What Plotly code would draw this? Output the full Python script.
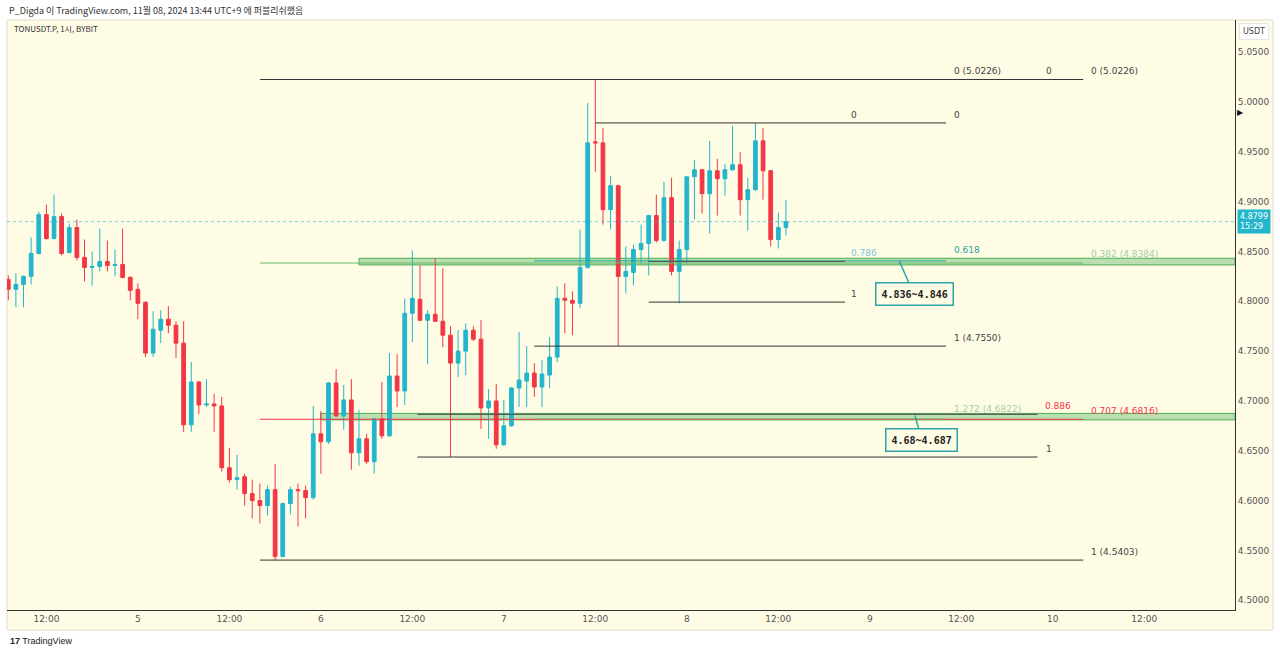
import pandas as pd
import plotly.graph_objects as go

# hourly candles, TONUSDT.P 1h, from 2024-11-04 07:00 (UTC+9)
start = pd.Timestamp('2024-11-04 07:00')
opens = [4.822, 4.812, 4.817, 4.825, 4.848, 4.887, 4.863, 4.885, 4.849, 4.874,
         4.844, 4.834, 4.835, 4.840, 4.836, 4.837, 4.824, 4.812, 4.799, 4.748,
         4.771, 4.782, 4.776, 4.758, 4.676, 4.719, 4.696, 4.697, 4.695, 4.633,
         4.621, 4.624, 4.607, 4.600, 4.595, 4.611, 4.544, 4.597, 4.611, 4.610,
         4.603, 4.667, 4.659, 4.718, 4.685, 4.701, 4.648, 4.662, 4.639, 4.682,
         4.665, 4.725, 4.710, 4.788, 4.802, 4.781, 4.787, 4.780, 4.766, 4.738,
         4.750, 4.771, 4.762, 4.693, 4.700, 4.656, 4.675, 4.713, 4.720, 4.728,
         4.714, 4.726, 4.744, 4.803, 4.801, 4.798, 4.834, 4.960, 4.959, 4.892,
         4.916, 4.825, 4.829, 4.852, 4.858, 4.886, 4.861, 4.904, 4.830, 4.852,
         4.925, 4.932, 4.908, 4.931, 4.923, 4.932, 4.937, 4.902, 4.912, 4.961,
         4.931, 4.862, 4.874]
highs = [4.826, 4.828, 4.826, 4.864, 4.890, 4.897, 4.907, 4.888, 4.878, 4.882,
         4.862, 4.850, 4.873, 4.861, 4.852, 4.873, 4.825, 4.818, 4.800, 4.790,
         4.791, 4.795, 4.780, 4.780, 4.739, 4.720, 4.722, 4.707, 4.704, 4.653,
         4.646, 4.627, 4.621, 4.617, 4.615, 4.637, 4.598, 4.614, 4.617, 4.615,
         4.695, 4.690, 4.719, 4.732, 4.716, 4.722, 4.691, 4.667, 4.683, 4.719,
         4.748, 4.747, 4.803, 4.851, 4.836, 4.791, 4.843, 4.833, 4.775, 4.771,
         4.778, 4.775, 4.781, 4.712, 4.717, 4.701, 4.714, 4.769, 4.755, 4.738,
         4.741, 4.764, 4.815, 4.818, 4.810, 4.872, 4.999, 5.0226, 4.974, 4.926,
         4.917, 4.855, 4.857, 4.877, 4.887, 4.907, 4.920, 4.924, 4.861, 4.925,
         4.942, 4.933, 4.961, 4.943, 4.938, 4.976, 4.950, 4.924, 4.979, 4.974,
         4.932, 4.889, 4.902]
lows = [4.801, 4.794, 4.794, 4.817, 4.847, 4.862, 4.862, 4.846, 4.848, 4.841,
        4.820, 4.816, 4.830, 4.830, 4.825, 4.823, 4.801, 4.782, 4.744, 4.744,
        4.758, 4.768, 4.743, 4.669, 4.669, 4.687, 4.694, 4.669, 4.629, 4.618,
        4.611, 4.595, 4.582, 4.577, 4.585, 4.5403, 4.543, 4.586, 4.574, 4.582,
        4.601, 4.627, 4.657, 4.684, 4.671, 4.631, 4.635, 4.637, 4.627, 4.662,
        4.664, 4.694, 4.696, 4.759, 4.780, 4.737, 4.779, 4.754, 4.6437, 4.724,
        4.726, 4.760, 4.672, 4.662, 4.652, 4.655, 4.674, 4.694, 4.694, 4.704,
        4.694, 4.713, 4.739, 4.768, 4.766, 4.793, 4.833, 4.930, 4.877, 4.872,
        4.755, 4.808, 4.816, 4.838, 4.826, 4.859, 4.860, 4.826, 4.798, 4.838,
        4.882, 4.888, 4.868, 4.886, 4.906, 4.931, 4.886, 4.871, 4.911, 4.902,
        4.855, 4.853, 4.866]
closes = [4.812, 4.817, 4.825, 4.848, 4.887, 4.863, 4.885, 4.848, 4.874, 4.844,
          4.834, 4.835, 4.840, 4.836, 4.837, 4.824, 4.811, 4.798, 4.748, 4.772,
          4.782, 4.776, 4.758, 4.676, 4.719, 4.696, 4.697, 4.695, 4.633, 4.621,
          4.623, 4.607, 4.600, 4.595, 4.611, 4.544, 4.597, 4.611, 4.610, 4.603,
          4.667, 4.659, 4.718, 4.685, 4.701, 4.648, 4.662, 4.639, 4.682, 4.665,
          4.725, 4.710, 4.788, 4.803, 4.781, 4.787, 4.780, 4.766, 4.738, 4.750,
          4.771, 4.762, 4.693, 4.700, 4.656, 4.675, 4.713, 4.721, 4.728, 4.714,
          4.727, 4.744, 4.803, 4.801, 4.798, 4.834, 4.959, 4.959, 4.892, 4.916,
          4.825, 4.830, 4.852, 4.858, 4.886, 4.861, 4.904, 4.830, 4.852, 4.925,
          4.932, 4.908, 4.931, 4.923, 4.932, 4.937, 4.902, 4.912, 4.961, 4.931,
          4.862, 4.874, 4.8799]
times = pd.date_range(start, periods=len(opens), freq='h')

# fib / horizontal lines drawn on the chart
line_price = [5.0226, 4.979, 4.7992, 4.7550, 4.6437, 4.5403,
              4.8384, 4.8406, 4.8400, 4.6816, 4.6822, 4.6866]
line_from = ['2024-11-05 16:00', '2024-11-07 12:00', '2024-11-07 19:00', '2024-11-07 04:00',
             '2024-11-06 12:40', '2024-11-05 16:00', '2024-11-05 16:00', '2024-11-07 04:00',
             '2024-11-07 19:00', '2024-11-05 16:00', '2024-11-07 04:00', '2024-11-06 12:40']
line_to = ['2024-11-10 04:00', '2024-11-09 10:00', '2024-11-08 20:45', '2024-11-09 10:00',
           '2024-11-09 22:00', '2024-11-10 04:00', '2024-11-10 04:00', '2024-11-09 10:00',
           '2024-11-08 20:45', '2024-11-10 04:00', '2024-11-09 10:00', '2024-11-09 22:00']
line_color = ['#333333', '#333333', '#333333', '#333333', '#333333', '#333333',
              '#66bb6a', '#26a69a', '#555555', '#f23645', '#81c784', '#444444']

# fib level labels
label_text = ['0 (5.0226)', '0', '0 (5.0226)', '0', '0',
              '0.786', '0.618', '0.382 (4.8384)', '1', '1 (4.7550)',
              '1.272 (4.6822)', '0.886', '0.707 (4.6816)', '1', '1 (4.5403)']
label_time = ['2024-11-09 10:45', '2024-11-09 22:50', '2024-11-10 04:45', '2024-11-08 21:20',
              '2024-11-09 10:45', '2024-11-08 21:20', '2024-11-09 10:45', '2024-11-10 04:45',
              '2024-11-08 21:20', '2024-11-09 10:45', '2024-11-09 10:45', '2024-11-09 22:40',
              '2024-11-10 04:45', '2024-11-09 22:50', '2024-11-10 04:45']
label_price = [5.0226, 5.0226, 5.0226, 4.979, 4.979,
               4.8400, 4.8430, 4.8395, 4.7992, 4.7550,
               4.6840, 4.6866, 4.6816, 4.6437, 4.5403]
label_color = ['#444444', '#444444', '#444444', '#444444', '#444444',
               '#7fc4d8', '#26a69a', '#9fcfa8', '#444444', '#444444',
               '#9fcfa8', '#f23645', '#f23645', '#444444', '#444444']

# highlighted zones
zone_low = [4.8365, 4.6810]
zone_high = [4.8432, 4.6875]
zone_from = ['2024-11-06 05:00', '2024-11-06 00:00']
zone_text = ['4.836~4.846', '4.68~4.687']
zone_tip_time = ['2024-11-09 03:50', '2024-11-09 05:55']
zone_tip_price = [4.8410, 4.6855]

xtick_vals = ['2024-11-04 12:00', '2024-11-05 00:00', '2024-11-05 12:00', '2024-11-06 00:00',
              '2024-11-06 12:00', '2024-11-07 00:00', '2024-11-07 12:00', '2024-11-08 00:00',
              '2024-11-08 12:00', '2024-11-09 00:00', '2024-11-09 12:00', '2024-11-10 00:00',
              '2024-11-10 12:00']
xtick_text = ['12:00', '5', '12:00', '6', '12:00', '7', '12:00', '8', '12:00', '9',
              '12:00', '10', '12:00']
ytick_vals = [4.50, 4.55, 4.60, 4.65, 4.70, 4.75, 4.80, 4.85, 4.90, 4.95, 5.00, 5.05]

UP = '#22b5cc'
DOWN = '#f23645'
BG = '#fffce6'

W, H = 1280, 654
L, R, T, B = 7, 45, 20, 44
pw, ph = W - L - R, H - T - B


def px(x):
  return (x - L) / pw


def py(y):
  return (H - B - y) / ph


x_lo = start - pd.Timedelta(minutes=10)
x_hi = start + pd.Timedelta(hours=160.9)

fig = go.Figure()
fig.add_trace(go.Candlestick(x=times, open=opens, high=highs, low=lows, close=closes,
                             increasing=dict(line=dict(color=UP, width=1), fillcolor=UP),
                             decreasing=dict(line=dict(color=DOWN, width=1), fillcolor=DOWN),
                             whiskerwidth=0, hoverinfo='x+y'))

shapes = []
# yellow chart panel incl. axes
shapes.append(dict(type='rect', xref='paper', yref='paper', x0=0, x1=px(1273), y0=py(630), y1=1,
                   fillcolor=BG, line=dict(color='#e0ddc8', width=1), layer='below'))
for lo, hi, x0 in zip(zone_low, zone_high, zone_from):
  shapes.append(dict(type='rect', xref='x', yref='y', x0=x0, x1=x_hi, y0=lo, y1=hi,
                     fillcolor='rgba(129,199,132,0.55)', line=dict(color='#4caf50', width=1),
                     layer='below'))
for p, a, b, c in zip(line_price, line_from, line_to, line_color):
  shapes.append(dict(type='line', xref='x', yref='y', x0=a, x1=b, y0=p, y1=p,
                     line=dict(color=c, width=1)))
# last price dotted line
shapes.append(dict(type='line', xref='paper', yref='y', x0=0, x1=1, y0=closes[-1], y1=closes[-1],
                   line=dict(color=UP, width=1, dash='dot'), opacity=0.6))

annotations = []
for t, x, p, c in zip(label_text, label_time, label_price, label_color):
  annotations.append(dict(x=x, y=p, text=t, showarrow=False, xanchor='left', yanchor='bottom',
                          yshift=1, font=dict(size=9, color=c, family='DejaVu Sans')))
for t, x, p, dx, dy in zip(zone_text, zone_tip_time, zone_tip_price, [15, 7], [34, 25]):
  annotations.append(dict(x=x, y=p, text=f'<b>{t}</b>', showarrow=True, ax=dx, ay=dy,
                          arrowhead=0, arrowwidth=1.5, arrowcolor='#2ea3a8', standoff=0,
                          bgcolor=BG, bordercolor='#2ea3a8', borderwidth=1.5, borderpad=5,
                          font=dict(size=10, color='#222', family='DejaVu Sans Mono')))
annotations += [
  dict(xref='paper', yref='paper', x=px(7), y=py(10), xanchor='left', yanchor='middle',
       text='P_Digda 이 TradingView.com, 11월 08, 2024 13:44 UTC+9 에 퍼블리쉬했음', showarrow=False,
       font=dict(size=9, color='#333', family='Noto Sans CJK KR')),
  dict(xref='paper', yref='paper', x=px(12), y=py(29), xanchor='left', yanchor='middle',
       text='TONUSDT.P, 1시, BYBIT', showarrow=False,
       font=dict(size=8, color='#333', family='Noto Sans CJK KR')),
  dict(xref='paper', yref='paper', x=px(1254), y=py(31), xanchor='center', yanchor='middle',
       text='USDT', showarrow=False, bgcolor='white', bordercolor='#e6e6e6', borderwidth=1,
       borderpad=3, font=dict(size=8, color='#444', family='DejaVu Sans')),
  dict(xref='paper', yref='y', x=px(1237), y=closes[-1], xanchor='left', yanchor='middle',
       text='4.8799<br>15:29', showarrow=False, bgcolor=UP, borderpad=2, align='left',
       font=dict(size=8, color='white', family='DejaVu Sans')),
  dict(xref='paper', yref='y', x=px(1235), y=4.989, xanchor='left', yanchor='middle',
       text='▶', showarrow=False, font=dict(size=8, color='#111')),
  dict(xref='paper', yref='paper', x=px(8), y=py(641), xanchor='left', yanchor='middle',
       text='<b>17</b> TradingView', showarrow=False,
       font=dict(size=9, color='#222', family='Liberation Sans Narrow, Liberation Sans')),
]

fig.update_layout(
  width=W, height=H, margin=dict(l=L, r=R, t=T, b=B, autoexpand=False),
  paper_bgcolor='white', plot_bgcolor=BG, showlegend=False,
  shapes=shapes, annotations=annotations,
  font=dict(family='DejaVu Sans', size=9, color='#555'),
  xaxis=dict(type='date', range=[x_lo, x_hi], rangeslider=dict(visible=False),
             tickvals=xtick_vals, ticktext=xtick_text, showgrid=False, zeroline=False,
             showline=True, linecolor='#333', linewidth=1, ticks='',
             tickfont=dict(size=9, color='#555')),
  yaxis=dict(side='right', range=[4.4902, 5.0823], tickvals=ytick_vals, tickformat='.4f',
             showgrid=False, zeroline=False, showline=True, linecolor='#333', linewidth=1,
             ticks='', tickfont=dict(size=9, color='#555')),
)

fig.write_html('out.html', config={'displayModeBar': False},
               post_script="document.body.style.margin='0';")
